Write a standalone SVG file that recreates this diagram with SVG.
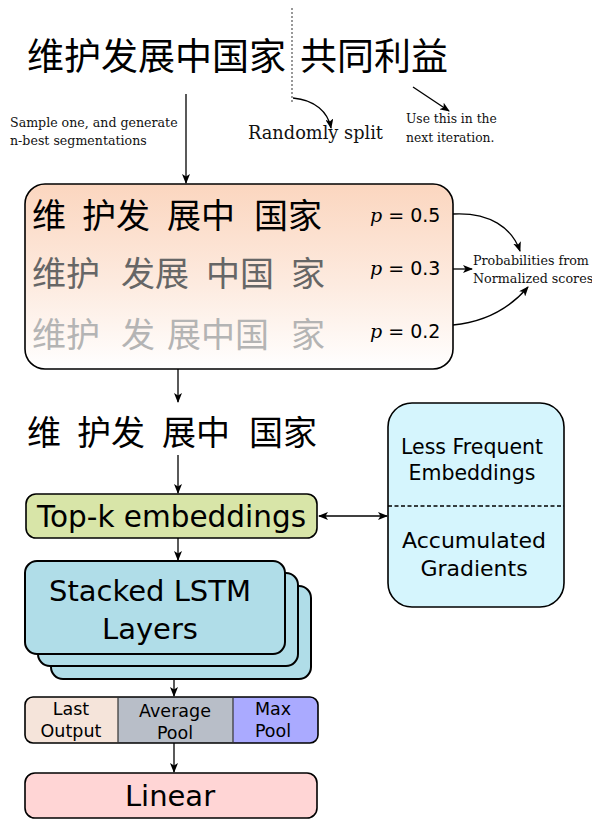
<svg xmlns="http://www.w3.org/2000/svg" width="592" height="820" viewBox="0 0 592 820">
<defs>
<style>
.cjk{font-family:"Noto Sans CJK SC","Noto Sans",sans-serif;}
.sans{font-family:"DejaVu Sans","Liberation Sans",sans-serif;fill:#000;}
.serif{font-family:"DejaVu Serif","Liberation Serif",serif;fill:#111;}
.ital{font-family:"DejaVu Serif","Liberation Serif",serif;font-style:italic;}
.box{stroke:#000;stroke-width:1.6;}
.conn{fill:none;stroke:#000;stroke-width:1.3;}
</style>
<marker id="ah" viewBox="0 0 10 8" refX="9" refY="4" markerWidth="10" markerHeight="8" markerUnits="userSpaceOnUse" orient="auto-start-reverse">
<path d="M0,0 L10,4 L0,8 L2.5,4 Z" fill="#000"/>
</marker>
<linearGradient id="peach" x1="0" y1="0" x2="0" y2="1">
<stop offset="0" stop-color="#fbd6bf"/>
<stop offset="0.55" stop-color="#fdebe0"/>
<stop offset="1" stop-color="#ffffff"/>
</linearGradient>
</defs>

<g id="source-sentence">
<text class="cjk" x="27" y="70" font-size="37">维护发展中国家</text>
<text class="cjk" x="300" y="70" font-size="37">共同利益</text>
<line x1="292" y1="8" x2="292" y2="103" stroke="#555" stroke-width="1.2" stroke-dasharray="2,2"/>
</g>

<g id="labels-top">
<text class="serif" x="10" y="127" font-size="12.6">Sample one, and generate</text>
<text class="serif" x="10" y="145" font-size="12.6">n-best segmentations</text>
<text class="serif" x="248" y="139" font-size="19" textLength="135" lengthAdjust="spacingAndGlyphs">Randomly  split</text>
<text class="serif" x="406" y="123" font-size="12.3">Use this in the</text>
<text class="serif" x="406" y="142" font-size="12.3">next iteration.</text>
</g>

<g id="nbest">
<rect class="box" x="25" y="184" width="428" height="185" rx="20" fill="url(#peach)"/>
<g class="cjk" font-size="34" fill="#000">
<text x="32" y="228">维</text><text x="82" y="228">护发</text><text x="167" y="228">展中</text><text x="254" y="228">国家</text>
</g>
<g class="cjk" font-size="34" fill="#666">
<text x="32" y="286">维护</text><text x="121" y="286">发展</text><text x="206" y="286">中国</text><text x="291" y="286">家</text>
</g>
<g class="cjk" font-size="34" fill="#b4b4b4">
<text x="32" y="347">维护</text><text x="121" y="347">发</text><text x="167" y="347">展中国</text><text x="291" y="347">家</text>
</g>
<text class="sans" x="370" y="222" font-size="19"><tspan class="ital">p</tspan> = 0.5</text>
<text class="sans" x="370" y="275" font-size="19"><tspan class="ital">p</tspan> = 0.3</text>
<text class="sans" x="370" y="338" font-size="19"><tspan class="ital">p</tspan> = 0.2</text>
</g>

<g id="prob-label">
<text class="serif" x="473" y="265" font-size="12.7">Probabilities from</text>
<text class="serif" x="473" y="283" font-size="12.7">Normalized scores</text>
</g>

<g id="chosen">
<g class="cjk" font-size="34" fill="#000">
<text x="27" y="445">维</text><text x="77" y="445">护发</text><text x="162" y="445">展中</text><text x="249" y="445">国家</text>
</g>
</g>

<g id="topk">
<rect class="box" x="26" y="494" width="291" height="44" rx="10" fill="#d8e5a8"/>
<text class="sans" x="171.5" y="527" font-size="29.5" text-anchor="middle">Top-k embeddings</text>
</g>

<g id="memory">
<rect class="box" x="388" y="403" width="176" height="204" rx="24" fill="#d5f5fd"/>
<line x1="388" y1="506" x2="564" y2="506" stroke="#000" stroke-width="1.3" stroke-dasharray="4,2.5"/>
<text class="sans" x="472" y="454" font-size="20.5" text-anchor="middle">Less Frequent</text>
<text class="sans" x="472" y="480" font-size="20.5" text-anchor="middle">Embeddings</text>
<text class="sans" x="474" y="548" font-size="22" text-anchor="middle">Accumulated</text>
<text class="sans" x="474" y="576" font-size="22" text-anchor="middle">Gradients</text>
</g>

<g id="lstm">
<rect x="51" y="586" width="260" height="93" rx="12" fill="#b0dde8" stroke="#000" stroke-width="2"/>
<rect x="38" y="573" width="260" height="93" rx="12" fill="#b0dde8" stroke="#000" stroke-width="2"/>
<rect x="25" y="561" width="260" height="93" rx="12" fill="#b0dde8" stroke="#000" stroke-width="2"/>
<text class="sans" x="150" y="601" font-size="29" text-anchor="middle">Stacked LSTM</text>
<text class="sans" x="150" y="639" font-size="29" text-anchor="middle">Layers</text>
</g>

<g id="pooling">
<path d="M33,697 H118 V743 H33 A8,8 0 0 1 25,735 V705 A8,8 0 0 1 33,697 Z" fill="#f5e4da"/>
<rect x="118" y="697" width="115" height="46" fill="#b8bec8"/>
<path d="M233,697 H310 A8,8 0 0 1 318,705 V735 A8,8 0 0 1 310,743 H233 Z" fill="#aaaaff"/>
<rect x="25" y="697" width="293" height="46" rx="8" fill="none" stroke="#000" stroke-width="1.6"/>
<line x1="118" y1="697" x2="118" y2="743" stroke="#333" stroke-width="1.2"/>
<line x1="233" y1="697" x2="233" y2="743" stroke="#333" stroke-width="1.2"/>
<text class="sans" x="71" y="715" font-size="17.5" text-anchor="middle">Last</text>
<text class="sans" x="71" y="737" font-size="17.5" text-anchor="middle">Output</text>
<text class="sans" x="175" y="717" font-size="17.5" text-anchor="middle">Average</text>
<text class="sans" x="175" y="739" font-size="17.5" text-anchor="middle">Pool</text>
<text class="sans" x="273" y="715" font-size="17.5" text-anchor="middle">Max</text>
<text class="sans" x="273" y="737" font-size="17.5" text-anchor="middle">Pool</text>
</g>

<g id="linear">
<rect class="box" x="25" y="773" width="292" height="45" rx="10" fill="#ffd5d5"/>
<text class="sans" x="170" y="806" font-size="29" text-anchor="middle">Linear</text>
</g>

<g id="connectors">
<line class="conn" x1="186" y1="94" x2="186" y2="183" marker-end="url(#ah)"/>
<path class="conn" d="M293,98 C315,100 328,112 331,128" marker-end="url(#ah)"/>
<path class="conn" d="M413,87 L449,111" marker-end="url(#ah)"/>
<path class="conn" d="M453,214 C490,212 512,228 520,251" marker-end="url(#ah)"/>
<line class="conn" x1="453" y1="269" x2="472" y2="269" marker-end="url(#ah)"/>
<path class="conn" d="M453,325 C485,322 510,308 528,287" marker-end="url(#ah)"/>
<line class="conn" x1="178" y1="369" x2="178" y2="402" marker-end="url(#ah)"/>
<line class="conn" x1="178" y1="455" x2="178" y2="493" marker-end="url(#ah)"/>
<line class="conn" x1="319" y1="516" x2="387" y2="516" marker-start="url(#ah)" marker-end="url(#ah)"/>
<line class="conn" x1="178" y1="538" x2="178" y2="560" marker-end="url(#ah)"/>
<line class="conn" x1="174" y1="680" x2="174" y2="696" marker-end="url(#ah)"/>
<line class="conn" x1="174" y1="743" x2="174" y2="772" marker-end="url(#ah)"/>
</g>
</svg>
